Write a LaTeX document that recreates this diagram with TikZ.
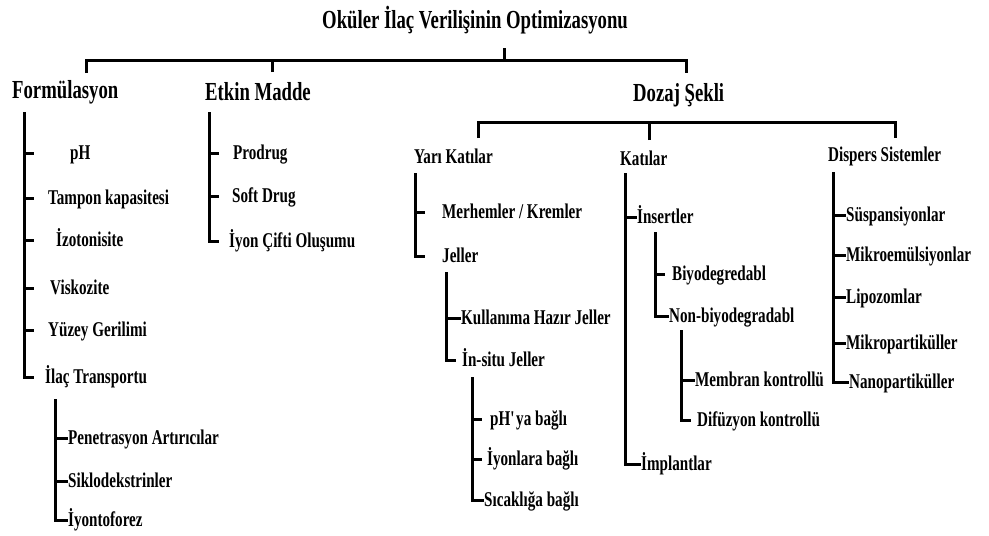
\documentclass[tikz,border=0pt]{standalone}
\usepackage{fontspec}
\setmainfont{Liberation Serif}[FakeStretch=0.72]
\usepackage{tikz}
\usetikzlibrary{positioning, calc}

\begin{document}
\begin{tikzpicture}[
    x=1pt, y=-1pt,
    branch/.style={line width=3pt, black},
    titletext/.style={inner sep=0pt, font=\fontsize{26}{28}\selectfont\bfseries},
    headtext/.style={inner sep=0pt, anchor=west, font=\fontsize{26}{28}\selectfont\bfseries},
    subtext/.style={inner sep=0pt, anchor=west, text height=12pt, text depth=0pt,
                    font=\fontsize{21}{23}\selectfont\bfseries},
    itemtext/.style={inner sep=0pt, anchor=west, text height=12pt, text depth=0pt,
                     font=\fontsize{21}{23}\selectfont\bfseries},
  ]
    \useasboundingbox (0,0) rectangle (989,536);

    % Root
    \node[titletext] (root) at (475,20) {Oküler İlaç Verilişinin Optimizasyonu};
    \coordinate (rootJ) at (504,60);
    \coordinate (bl) at (86,73);
    \coordinate (bm) at (272,72);
    \coordinate (br) at (686,73);
    \draw[branch] (rootJ) -- ++(0,-12);
    \draw[branch] (bl) |- (rootJ) -| (br);
    \draw[branch] (bm) -- (bm |- rootJ);

    \node[headtext] (form) at (12,92) {Formülasyon};
    \node[headtext] (etkin) at (205,92) {Etkin Madde};
    \node[headtext] (dozaj) at (633,95) {Dozaj Şekli};

    % Formulasyon
    \coordinate (fTop) at (24,112);
    \foreach \n/\x/\y/\t in {ph/70/153/pH, tampon/48/198/Tampon kapasitesi,
        izo/56/240/İzotonisite, visko/50/288/Viskozite,
        yuzey/48/330/Yüzey Gerilimi, ilac/45/377/İlaç Transportu} {
      \node[itemtext] (\n) at (\x,\y) {\t};
    }
    \foreach \n in {ph,tampon,izo,visko,yuzey} { \draw[branch] (fTop |- \n.west) -- ++(10,0); }
    \draw[branch] (fTop) -- (fTop |- ilac.west) -- ++(10,0);

    \coordinate (tTop) at (55,399);
    \foreach \n/\y/\t in {pene/438/Penetrasyon Artırıcılar, siklo/481/Siklodekstrinler,
        iyonto/520/İyontoforez} {
      \node[itemtext] (\n) at (68,\y) {\t};
    }
    \foreach \n in {pene,siklo} { \draw[branch] (tTop |- \n.west) -- (\n.west); }
    \draw[branch] (tTop) -- (tTop |- iyonto.west) -- (iyonto.west);

    % Etkin Madde
    \coordinate (eTop) at (209,112);
    \foreach \n/\x/\y/\t in {prodrug/233/153/Prodrug, soft/232/196/Soft Drug,
        cift/229/241/İyon Çifti Oluşumu} {
      \node[itemtext] (\n) at (\x,\y) {\t};
    }
    \foreach \n in {prodrug,soft} { \draw[branch] (eTop |- \n.west) -- ++(10,0); }
    \draw[branch] (eTop) -- (eTop |- cift.west) -- ++(10,0);

    % Dozaj Sekli
    \coordinate (dJ) at (649,122);
    \coordinate (dl) at (478,138);
    \coordinate (dm) at (649,140);
    \coordinate (dr) at (895,138);
    \draw[branch] (dl) |- (dJ) -| (dr);
    \draw[branch] (dm) -- (dJ);

    \node[subtext] (yari) at (414,157) {Yarı Katılar};
    \node[subtext] (kati) at (620,159) {Katılar};
    \node[subtext] (disp) at (828,155) {Dispers Sistemler};

    % Yari Katilar
    \coordinate (yTop) at (415,173);
    \node[itemtext] (merh) at (442,212) {Merhemler / Kremler};
    \node[itemtext] (jel) at (442,256) {Jeller};
    \draw[branch] (yTop |- merh.west) -- ++(10,0);
    \draw[branch] (yTop) -- (yTop |- jel.west) -- ++(10,0);

    \coordinate (jTop) at (446,272);
    \node[itemtext] (hazir) at (461,318) {Kullanıma Hazır Jeller};
    \node[itemtext] (insitu) at (462,360) {İn-situ Jeller};
    \draw[branch] (jTop |- hazir.west) -- (hazir.west);
    \draw[branch] (jTop) -- (jTop |- insitu.west) -- ++(10,0);

    \coordinate (sTop) at (472,377);
    \foreach \n/\x/\y/\t in {phya/490/419/pH\textquotesingle ya bağlı, iyonlara/487/459/İyonlara bağlı,
        sicak/484/500/Sıcaklığa bağlı} {
      \node[itemtext] (\n) at (\x,\y) {\t};
    }
    \foreach \n in {phya,iyonlara} { \draw[branch] (sTop |- \n.west) -- ++(10,0); }
    \draw[branch] (sTop) -- (sTop |- sicak.west) -- (sicak.west);

    % Katilar
    \coordinate (kTop) at (625,173);
    \node[itemtext] (insert) at (637,217) {İnsertler};
    \node[itemtext] (implant) at (641,464) {İmplantlar};
    \draw[branch] (kTop |- insert.west) -- (insert.west);
    \draw[branch] (kTop) -- (kTop |- implant.west) -- (implant.west);

    \coordinate (iTop) at (655,232);
    \node[itemtext] (biyo) at (672,274) {Biyodegredabl};
    \node[itemtext] (nonbiyo) at (669,316) {Non-biyodegradabl};
    \draw[branch] (iTop |- biyo.west) -- ++(10,0);
    \draw[branch] (iTop) -- (iTop |- nonbiyo.west) -- (nonbiyo.west);

    \coordinate (nTop) at (681,330);
    \node[itemtext] (membran) at (695,380) {Membran kontrollü};
    \node[itemtext] (difuzyon) at (697,420) {Difüzyon kontrollü};
    \draw[branch] (nTop |- membran.west) -- (membran.west);
    \draw[branch] (nTop) -- (nTop |- difuzyon.west) -- ++(10,0);

    % Dispers Sistemler
    \coordinate (pTop) at (833,172);
    \foreach \n/\y/\t in {susp/215/Süspansiyonlar, mikroem/255/Mikroemülsiyonlar,
        lipo/297/Lipozomlar, mikropar/343/Mikropartiküller} {
      \node[itemtext] (\n) at (846,\y) {\t};
    }
    \node[itemtext] (nano) at (849,382) {Nanopartiküller};
    \foreach \n in {susp,mikroem,lipo,mikropar} { \draw[branch] (pTop |- \n.west) -- (\n.west); }
    \draw[branch] (pTop) -- (pTop |- nano.west) -- (nano.west);
  \end{tikzpicture}
\end{document}
